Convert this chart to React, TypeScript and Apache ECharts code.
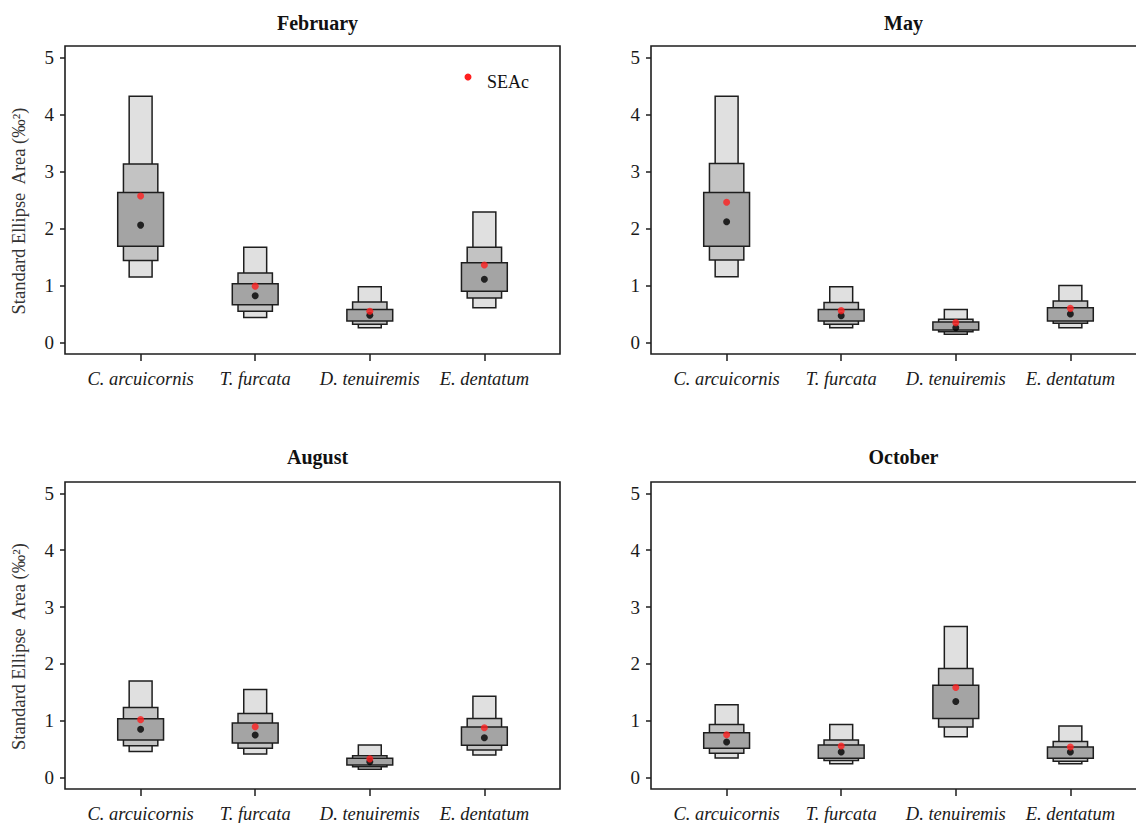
import React, { useEffect, useRef } from "react";
import * as echarts from "echarts";

const species = ["C. arcuicornis", "T. furcata", "D. tenuiremis", "E. dentatum"];
const yTicks = [0, 1, 2, 3, 4, 5];
const xTicks = [1, 2, 3, 4];

// February
const febCI95 = [[1.15, 4.32], [0.44, 1.67], [0.26, 0.98], [0.61, 2.29]];
const febCI75 = [[1.44, 3.13], [0.55, 1.22], [0.32, 0.71], [0.78, 1.67]];
const febCI50 = [[1.69, 2.63], [0.665, 1.03], [0.38, 0.58], [0.9, 1.4]];
const febMode = [2.06, 0.82, 0.48, 1.11];
const febSEAc = [2.57, 0.99, 0.55, 1.36];

// May
const mayCI95 = [[1.155, 4.32], [0.26, 0.98], [0.146, 0.58], [0.26, 1.0]];
const mayCI75 = [[1.447, 3.14], [0.32, 0.705], [0.19, 0.41], [0.34, 0.73]];
const mayCI50 = [[1.69, 2.63], [0.38, 0.58], [0.22, 0.36], [0.38, 0.61]];
const mayMode = [2.12, 0.47, 0.26, 0.5];
const maySEAc = [2.46, 0.56, 0.35, 0.6];

// August
const augCI95 = [[0.46, 1.7], [0.415, 1.55], [0.146, 0.573], [0.4, 1.43]];
const augCI75 = [[0.56, 1.234], [0.515, 1.13], [0.19, 0.386], [0.485, 1.04]];
const augCI50 = [[0.66, 1.035], [0.61, 0.96], [0.22, 0.34], [0.57, 0.89]];
const augMode = [0.85, 0.75, 0.28, 0.7];
const augSEAc = [1.02, 0.895, 0.33, 0.877];

// October
const octCI95 = [[0.345, 1.28], [0.246, 0.936], [0.72, 2.66], [0.246, 0.91]];
const octCI75 = [[0.427, 0.936], [0.3, 0.66], [0.89, 1.92], [0.29, 0.637]];
const octCI50 = [[0.515, 0.79], [0.34, 0.573], [1.04, 1.626], [0.34, 0.54]];
const octMode = [0.626, 0.45, 1.34, 0.45];
const octSEAc = [0.754, 0.555, 1.585, 0.54];

const boxWidths = [0.2, 0.3, 0.4];
const boxFills = ["#e0e0e0", "#c3c3c3", "#a4a4a4"];

const panels = [
  { title: "February", ci95: febCI95, ci75: febCI75, ci50: febCI50, mode: febMode, seac: febSEAc, left: 65, top: 46, height: 308, titleY: 8, yName: true },
  { title: "May", ci95: mayCI95, ci75: mayCI75, ci50: mayCI50, mode: mayMode, seac: maySEAc, left: 651, top: 46, height: 308, titleY: 8, yName: false },
  { title: "August", ci95: augCI95, ci75: augCI75, ci50: augCI50, mode: augMode, seac: augSEAc, left: 65, top: 482, height: 307, titleY: 442, yName: true },
  { title: "October", ci95: octCI95, ci75: octCI75, ci50: octCI50, mode: octMode, seac: octSEAc, left: 651, top: 482, height: 307, titleY: 442, yName: false },
];

const PW = 495;
const serif = "'Liberation Serif', 'Times New Roman', serif";

export default function App() {
  const ref = useRef<HTMLDivElement>(null);

  useEffect(() => {
    if (!ref.current) return;
    const chart = echarts.init(ref.current, undefined, { renderer: "svg" });

    const grids: any[] = [];
    const xAxes: any[] = [];
    const yAxes: any[] = [];
    const series: any[] = [];
    const titles: any[] = [];

    panels.forEach((p, i) => {
      grids.push({
        left: p.left,
        top: p.top,
        width: PW,
        height: p.height,
        show: true,
        borderColor: "#1e1e1e",
        borderWidth: 1.6,
        backgroundColor: "#fff",
        containLabel: false,
      });
      xAxes.push({
        type: "value",
        gridIndex: i,
        min: 0.34,
        max: 4.66,
        position: "bottom",
        splitLine: { show: false },
        axisLine: { show: false, onZero: false },
        axisTick: { show: true, inside: false, length: 7, customValues: xTicks, lineStyle: { color: "#1e1e1e", width: 1.5 } },
        axisLabel: {
          show: true,
          customValues: xTicks,
          margin: 15,
          formatter: (v: number) => species[Math.round(v) - 1] ?? "",
          fontFamily: serif,
          fontStyle: "italic",
          fontSize: 18.5,
          color: "#1a1a1a",
        },
      });
      yAxes.push({
        type: "value",
        gridIndex: i,
        min: -0.2,
        max: 5.2,
        position: "left",
        splitLine: { show: false },
        axisLine: { show: false, onZero: false },
        axisTick: { show: true, inside: false, length: 5, customValues: yTicks, lineStyle: { color: "#1e1e1e", width: 1.5 } },
        axisLabel: {
          show: true,
          customValues: yTicks,
          margin: 11,
          fontFamily: serif,
          fontSize: 19,
          color: "#1a1a1a",
        },
        name: p.yName ? "Standard Ellipse  Area (‰²)" : "",
        nameLocation: "middle",
        nameRotate: 90,
        nameGap: 37,
        nameTextStyle: { fontFamily: serif, fontSize: 18.5, color: "#333", padding: [0, 22, 0, 0] },
      });
      titles.push({
        text: p.title,
        left: p.left + PW / 2,
        top: p.titleY,
        textAlign: "center",
        textStyle: { fontFamily: serif, fontWeight: "bold", fontSize: 20, color: "#111" },
      });

      const boxData = p.ci95.map((_, k) => [
        k + 1,
        p.ci95[k][0], p.ci95[k][1],
        p.ci75[k][0], p.ci75[k][1],
        p.ci50[k][0], p.ci50[k][1],
      ]);

      series.push({
        type: "custom",
        xAxisIndex: i,
        yAxisIndex: i,
        z: 2,
        encode: { x: 0, y: [1, 2] },
        data: boxData,
        renderItem: (params: any, api: any) => {
          const x = api.value(0);
          const children: any[] = [];
          for (let k = 0; k < 3; k++) {
            const lo = api.value(1 + 2 * k);
            const hi = api.value(2 + 2 * k);
            const w = boxWidths[k];
            const a = api.coord([x - w / 2, hi]);
            const b = api.coord([x + w / 2, lo]);
            children.push({
              type: "rect",
              shape: { x: a[0], y: a[1], width: b[0] - a[0], height: b[1] - a[1] },
              style: { fill: boxFills[k], stroke: "#1e1e1e", lineWidth: 1.5 },
            });
          }
          return { type: "group", children };
        },
      });
      series.push({
        type: "scatter",
        xAxisIndex: i,
        yAxisIndex: i,
        z: 3,
        symbol: "circle",
        symbolSize: 7,
        itemStyle: { color: "#000" },
        data: p.mode.map((v, k) => [k + 1, v]),
      });
      series.push({
        type: "scatter",
        xAxisIndex: i,
        yAxisIndex: i,
        z: 4,
        symbol: "circle",
        symbolSize: 7,
        itemStyle: { color: "#ff1f1f" },
        data: p.seac.map((v, k) => [k + 1, v]),
      });
    });

    chart.setOption({
      animation: false,
      backgroundColor: "#ffffff",
      title: titles,
      grid: grids,
      xAxis: xAxes,
      yAxis: yAxes,
      series,
      graphic: [
        { type: "circle", shape: { cx: 468, cy: 77, r: 3.5 }, style: { fill: "#ff1f1f" }, z: 10 },
        {
          type: "text",
          x: 487,
          y: 82,
          z: 10,
          style: {
            text: "SEAc",
            font: `18px ${serif}`,
            fill: "#111",
            textAlign: "left",
            align: "left",
            textVerticalAlign: "middle",
            verticalAlign: "middle",
          },
        },
      ],
    });

    return () => chart.dispose();
  }, []);

  return (
    <div
      style={{ position: "absolute", left: 0, top: 0, width: 1136, height: 823, overflow: "hidden", background: "#fff" }}
    >
      <div ref={ref} style={{ width: 1170, height: 823 }} />
    </div>
  );
}
